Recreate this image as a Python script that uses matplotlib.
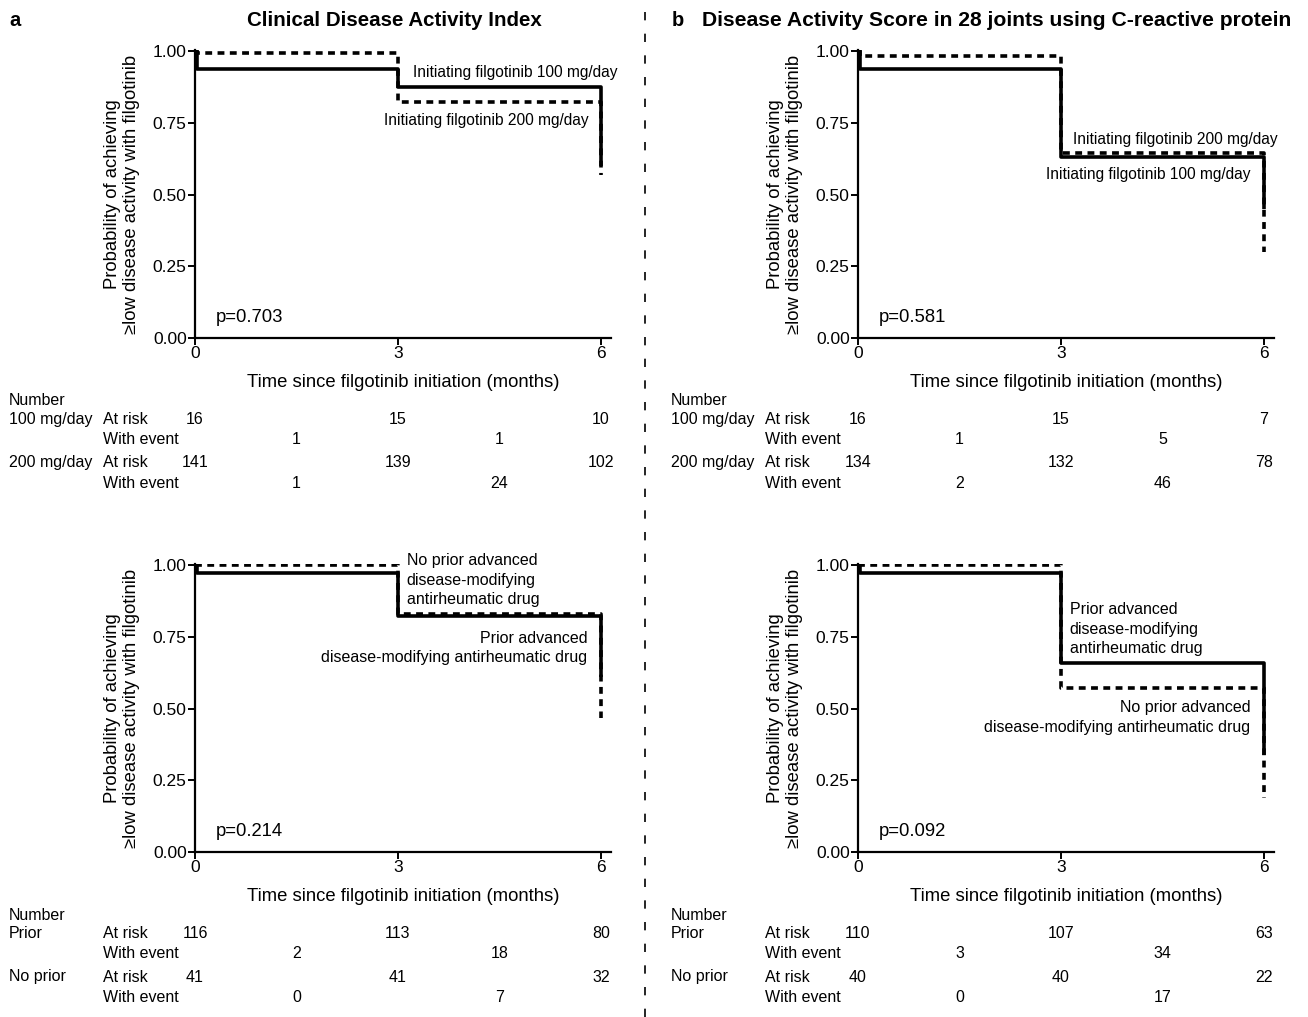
import matplotlib
matplotlib.use("Agg")
import matplotlib.pyplot as plt
from matplotlib.lines import Line2D
from matplotlib.transforms import blended_transform_factory

plt.rcParams["font.family"] = ["Liberation Sans", "DejaVu Sans"]

W, H = 1308, 1017

# Kaplan-Meier step values (time, probability)
cdai_100_t = [0, 0.03, 3, 6]
cdai_100_s = [1.0, 0.9375, 0.875, 0.60]
cdai_200_t = [0, 0.03, 3, 6]
cdai_200_s = [1.0, 0.993, 0.825, 0.57]

das_100_t = [0, 0.03, 3, 6]
das_100_s = [1.0, 0.94, 0.63, 0.45]
das_200_t = [0, 0.03, 3, 6]
das_200_s = [1.0, 0.985, 0.647, 0.30]

cdai_prior_t = [0, 0.03, 3, 6]
cdai_prior_s = [1.0, 0.975, 0.822, 0.612]
cdai_noprior_t = [0, 3, 6]
cdai_noprior_s = [1.0, 0.832, 0.469]

das_prior_t = [0, 0.03, 3, 6]
das_prior_s = [1.0, 0.972, 0.66, 0.339]
das_noprior_t = [0, 3, 6]
das_noprior_s = [1.0, 0.573, 0.19]

p_values = ["p=0.703", "p=0.581", "p=0.214", "p=0.092"]

# numbers at risk (t = 0, 3, 6) and with event (0-3, 3-6)
risk_times = [0, 3, 6]
event_times = [1.5, 4.5]
cdai_dose_risk = [[16, 15, 10], [141, 139, 102]]
cdai_dose_event = [[1, 1], [1, 24]]
das_dose_risk = [[16, 15, 7], [134, 132, 78]]
das_dose_event = [[1, 5], [2, 46]]
cdai_prior_risk = [[116, 113, 80], [41, 41, 32]]
cdai_prior_event = [[2, 18], [0, 7]]
das_prior_risk = [[110, 107, 63], [40, 40, 22]]
das_prior_event = [[3, 34], [0, 17]]

dose_groups = ["100 mg/day", "200 mg/day"]
prior_groups = ["Prior", "No prior"]

fig = plt.figure(figsize=(W / 100, H / 100), dpi=100)


def fx(px):
    return px / W


def fy(py):
    return 1 - py / H


def km_axes(left_px, top_px, solid, dashed, pval):
    ax = fig.add_axes([fx(left_px), fy(top_px + 286), 416 / W, 288 / H])
    ax.step(dashed[0], dashed[1], where="post", color="black", lw=2.6,
            linestyle=(0, (1.9, 1.5)), dash_capstyle="butt")
    ax.step(solid[0], solid[1], where="post", color="black", lw=2.6,
            solid_capstyle="butt")
    ax.set_xlim(0, 6.15)
    ax.set_ylim(0, 1.005)
    ax.set_xticks([0, 3, 6])
    ax.set_yticks([0, 0.25, 0.5, 0.75, 1.0])
    ax.set_yticklabels(["0.00", "0.25", "0.50", "0.75", "1.00"])
    for s in ["top", "right"]:
        ax.spines[s].set_visible(False)
    for s in ["left", "bottom"]:
        ax.spines[s].set_linewidth(1.6)
    ax.tick_params(direction="out", length=5, width=1.4, labelsize=12.5, pad=1)
    ax.set_xlabel("Time since filgotinib initiation (months)", fontsize=13.3, labelpad=9)
    ax.set_ylabel("Probability of achieving\n\u2265low disease activity with filgotinib",
                  fontsize=13.3, labelpad=9)
    ax.text(0.05, 0.07, pval, transform=ax.transAxes, fontsize=13.3, va="center")
    return ax


def risk_table(ax, left_px, rows_px, groups, risk, event):
    tr = blended_transform_factory(ax.transData, fig.transFigure)
    fig.text(fx(left_px), fy(rows_px[0]), "Number", fontsize=11.5, va="center")
    for g in range(2):
        yr = rows_px[1 + 2 * g]
        ye = rows_px[2 + 2 * g]
        fig.text(fx(left_px), fy(yr), groups[g], fontsize=11.5, va="center")
        fig.text(fx(left_px + 94), fy(yr), "At risk", fontsize=11.5, va="center")
        fig.text(fx(left_px + 94), fy(ye), "With event", fontsize=11.5, va="center")
        for t, n in zip(risk_times, risk[g]):
            ax.text(t, fy(yr), str(n), transform=tr, fontsize=11.5,
                    ha="center", va="center")
        for t, n in zip(event_times, event[g]):
            ax.text(t, fy(ye), str(n), transform=tr, fontsize=11.5,
                    ha="center", va="center")


ax1 = km_axes(195, 52, (cdai_100_t, cdai_100_s), (cdai_200_t, cdai_200_s), p_values[0])
ax1.text(6.24, 0.925, "Initiating filgotinib 100 mg/day", ha="right", va="center", fontsize=11.2)
ax1.text(5.82, 0.76, "Initiating filgotinib 200 mg/day", ha="right", va="center", fontsize=11.2)

ax2 = km_axes(858, 52, (das_100_t, das_100_s), (das_200_t, das_200_s), p_values[1])
ax2.text(6.2, 0.693, "Initiating filgotinib 200 mg/day", ha="right", va="center", fontsize=11.2)
ax2.text(5.8, 0.571, "Initiating filgotinib 100 mg/day", ha="right", va="center", fontsize=11.2)

ax3 = km_axes(195, 566, (cdai_prior_t, cdai_prior_s), (cdai_noprior_t, cdai_noprior_s), p_values[2])
ax3.text(3.13, 1.043, "No prior advanced\ndisease-modifying\nantirheumatic drug",
         ha="left", va="top", fontsize=11.5, linespacing=1.38)
ax3.text(5.8, 0.772, "Prior advanced\ndisease-modifying antirheumatic drug",
         ha="right", va="top", multialignment="right", fontsize=11.5, linespacing=1.38)

ax4 = km_axes(858, 566, (das_prior_t, das_prior_s), (das_noprior_t, das_noprior_s), p_values[3])
ax4.text(3.13, 0.872, "Prior advanced\ndisease-modifying\nantirheumatic drug",
         ha="left", va="top", fontsize=11.5, linespacing=1.38)
ax4.text(5.8, 0.53, "No prior advanced\ndisease-modifying antirheumatic drug",
         ha="right", va="top", multialignment="right", fontsize=11.5, linespacing=1.38)

risk_table(ax1, 9, [400, 419, 439, 463, 484], dose_groups, cdai_dose_risk, cdai_dose_event)
risk_table(ax2, 671, [400, 419, 439, 463, 484], dose_groups, das_dose_risk, das_dose_event)
risk_table(ax3, 9, [915, 933, 954, 977, 998], prior_groups, cdai_prior_risk, cdai_prior_event)
risk_table(ax4, 671, [915, 933, 954, 977, 998], prior_groups, das_prior_risk, das_prior_event)

# panel titles
fig.text(fx(9), fy(20), "a", fontsize=14.5, fontweight="bold", va="center")
fig.text(fx(394), fy(20), "Clinical Disease Activity Index", fontsize=14.8,
         fontweight="bold", va="center", ha="center")
fig.text(fx(672), fy(20), "b", fontsize=14.5, fontweight="bold", va="center")
fig.text(fx(702), fy(20), "Disease Activity Score in 28 joints using C-reactive protein",
         fontsize=15.2, fontweight="bold", va="center")

# dashed divider
fig.add_artist(Line2D([fx(645), fx(645)], [0, 1], transform=fig.transFigure,
                      color="black", lw=1.2, linestyle=(0, (5, 8))))

fig.savefig("out.png", dpi=100)
